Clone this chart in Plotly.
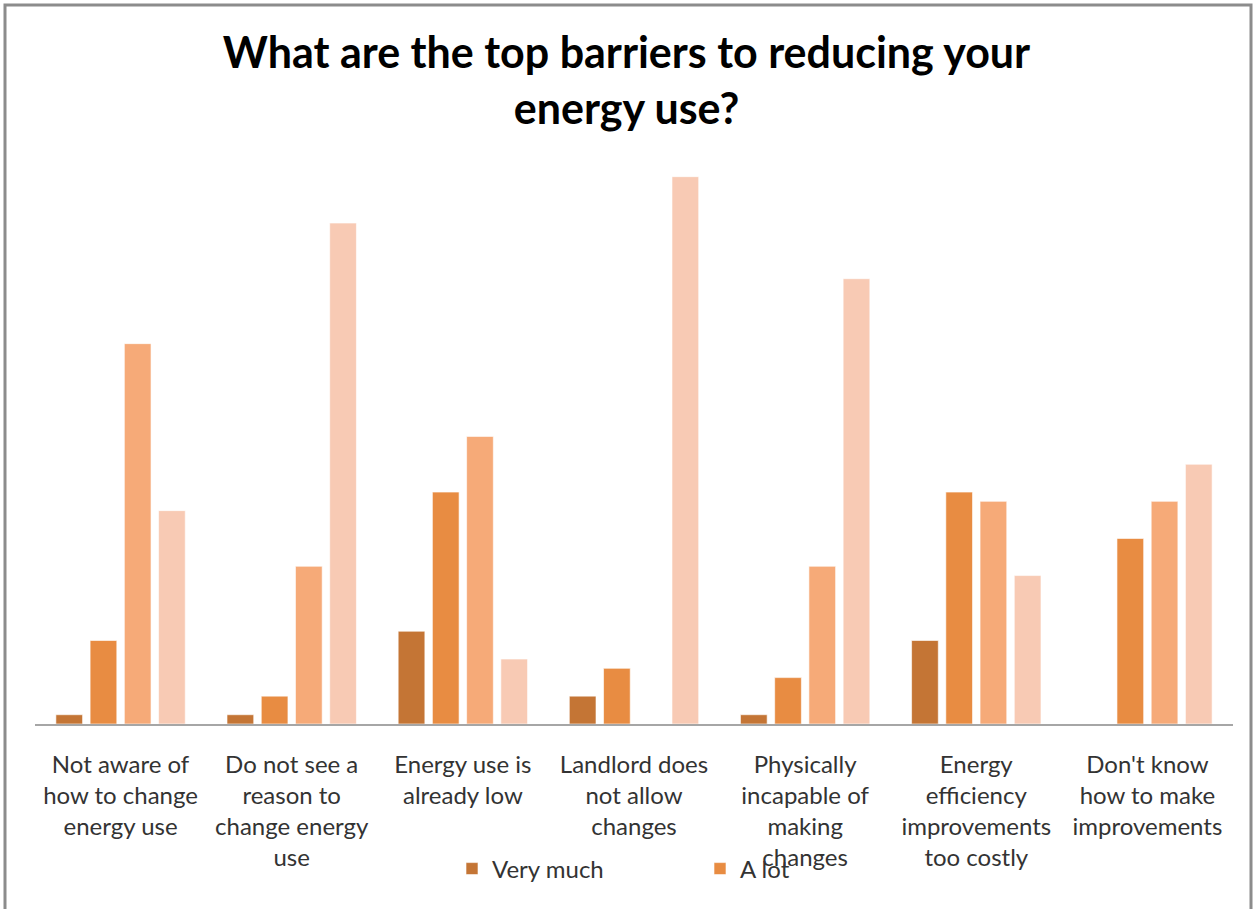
import plotly.graph_objects as go

# Survey categories (x axis)
categories = [
    "Not aware of<br>how to change<br>energy use",
    "Do not see a<br>reason to<br>change energy<br>use",
    "Energy use is<br>already low",
    "Landlord does<br>not allow<br>changes",
    "Physically<br>incapable of<br>making<br>changes",
    "Energy<br>efficiency<br>improvements<br>too costly",
    "Don't know<br>how to make<br>improvements",
]

# Response counts per answer level
very_much = [1, 1, 10, 3, 1, 9, 0]
a_lot = [9, 3, 25, 6, 5, 25, 20]
somewhat = [41, 17, 31, 0, 17, 24, 24]
not_at_all = [23, 54, 7, 59, 48, 16, 28]

series = [
    ("Very much", very_much, "#C47535", True),
    ("A lot", a_lot, "#E88C42", True),
    ("Somewhat", somewhat, "#F6AA78", False),
    ("Not at all", not_at_all, "#F8CAB4", False),
]

fig = go.Figure()
for name, vals, color, in_legend in series:
    fig.add_trace(go.Bar(
        x=categories, y=vals, name=name,
        marker=dict(color=color, line=dict(color="rgba(255,255,255,0.6)", width=1)),
        showlegend=in_legend,
    ))

L, R, T, B = 35, 20, 121, 185
W, H = 1253, 909
pw, ph = W - L - R, H - T - B

def px_x(p):
    return (p - L) / pw

def px_y(p):
    return (H - B - p) / ph

fig.update_layout(
    width=W, height=H,
    margin=dict(l=L, r=R, t=T, b=B),
    paper_bgcolor="white", plot_bgcolor="white",
    barmode="group", bargap=0.2, bargroupgap=0.22,
    title=dict(
        text="<b>What are the top barriers to reducing your<br>energy use?</b>",
        x=0.5, xanchor="center", y=1 - 68 / H, yanchor="top",
        font=dict(family="Lato, Open Sans, sans-serif", size=43, color="black"),
    ),
    font=dict(family="Lato, Open Sans, sans-serif", size=24, color="#333333"),
    xaxis=dict(
        showline=True, linecolor="#A6A6A6", linewidth=2,
        ticks="", showgrid=False, ticklabelstandoff=18,
        tickfont=dict(size=24, color="#333333"),
    ),
    yaxis=dict(range=[0, 65], visible=False, showgrid=False),
    legend=dict(
        orientation="h", x=px_x(452), xanchor="left", y=px_y(869), yanchor="middle",
        entrywidth=203, font=dict(size=24, color="#333333"),
        bgcolor="rgba(0,0,0,0)",
    ),
    shapes=[dict(
        type="rect", xref="paper", yref="paper",
        x0=px_x(5), x1=px_x(1251), y0=px_y(915), y1=px_y(5),
        line=dict(color="#8C8C8C", width=3), fillcolor="rgba(0,0,0,0)", layer="below",
    )],
)

fig.write_html("out.html")
